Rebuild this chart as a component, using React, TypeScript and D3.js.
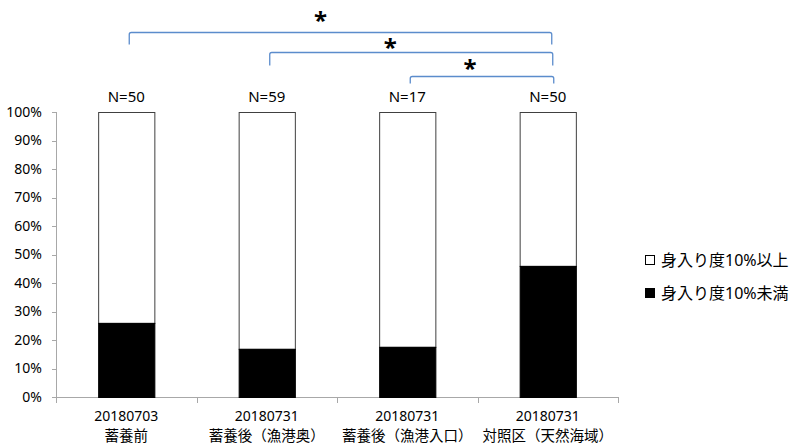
import * as d3 from "d3";

const categories = ["20180703", "20180731", "20180731", "20180731"];
const subLabels = ["蓄養前", "蓄養後（漁港奥）", "蓄養後（漁港入口）", "対照区（天然海域）"];
const sampleSizes = [50, 59, 17, 50];
const lowShare = [26, 16.9, 17.6, 46]; // 身入り度10%未満 (%)
const seriesNames = ["身入り度10%以上", "身入り度10%未満"];
const yTicks = [0, 10, 20, 30, 40, 50, 60, 70, 80, 90, 100];
// significance brackets: [from index, to index, level]
const brackets: [number, number, number][] = [
  [0, 3, 0],
  [1, 3, 1],
  [2, 3, 2],
];

const W = 798;
const H = 446;
const FONT = "'Noto Sans', 'Noto Sans CJK JP', sans-serif";
const BLUE = "#5b8ccc";

export default function App() {
  const x = d3.scaleBand<number>().domain(d3.range(categories.length)).range([56, 618]).paddingInner(0.6).paddingOuter(0.3);
  const band = d3.scaleBand<number>().domain(d3.range(categories.length)).range([56, 618]);
  const y = d3.scaleLinear().domain([0, 100]).range([397, 112]);
  const bracketY = [32, 52, 76];
  const bracketDrop = [12, 13, 7];
  const starShift = [-20, -21, -12];
  const starBase = [29, 55.5, 77];

  const cx = (i: number) => x(i)! + x.bandwidth() / 2;

  return (
    <svg width={W} height={H} style={{ position: "absolute", left: 0, top: 0, background: "#fff" }} fontFamily={FONT}>
      {/* y axis */}
      <line x1={56.5} x2={56.5} y1={y(100)} y2={y(0)} stroke="#a8a8a8" />
      {yTicks.map((t) => (
        <g key={t}>
          <line x1={52} x2={56} y1={Math.round(y(t)) + 0.5} y2={Math.round(y(t)) + 0.5} stroke="#a8a8a8" />
          <text x={42} y={y(t)} dy="0.35em" textAnchor="end" fontSize={14} fill="#000">
            {t}%
          </text>
        </g>
      ))}
      {/* x axis */}
      <line x1={56} x2={618} y1={397.5} y2={397.5} stroke="#a8a8a8" />
      {d3.range(categories.length + 1).map((i) => {
        const px = i < categories.length ? band(i)! : 618;
        return <line key={i} x1={Math.round(px) + 0.5} x2={Math.round(px) + 0.5} y1={397} y2={403} stroke="#a8a8a8" />;
      })}
      {/* bars */}
      {categories.map((c, i) => (
        <g key={i}>
          <rect x={x(i)! + 0.5} y={y(100) + 0.5} width={x.bandwidth()} height={y(lowShare[i]) - y(100)} fill="#fff" stroke="#404040" />
          <rect x={x(i)! + 0.5} y={y(lowShare[i]) + 0.5} width={x.bandwidth()} height={y(0) - y(lowShare[i])} fill="#000" stroke="#000" />
          <text x={cx(i)} y={97} dy="0.35em" textAnchor="middle" fontSize={15}>
            N={sampleSizes[i]}
          </text>
          <text x={band(i)! + band.bandwidth() / 2} y={416} dy="0.35em" textAnchor="middle" fontSize={14}>
            {c}
          </text>
          <text x={band(i)! + band.bandwidth() / 2} y={436} dy="0.35em" textAnchor="middle" fontSize={14.5}>
            {subLabels[i]}
          </text>
        </g>
      ))}
      {/* significance brackets */}
      {brackets.map(([a, b, lv]) => {
        const x1 = cx(a) + 3;
        const x2 = cx(b) + 4 + lv;
        const by = bracketY[lv] + 0.5;
        const d = `M${x1},${by + bracketDrop[lv]}V${by + 2}Q${x1},${by} ${x1 + 2},${by}H${x2 - 2}Q${x2},${by} ${x2},${by + 2}V${by + bracketDrop[lv]}`;
        return (
          <g key={lv}>
            <path d={d} fill="none" stroke={BLUE} strokeWidth={1.3} />
            <text x={(x1 + x2) / 2 + starShift[lv]} y={starBase[lv]} textAnchor="middle" fontSize={24} fontWeight="bold">
              *
            </text>
          </g>
        );
      })}
      {/* legend */}
      {seriesNames.map((s, i) => (
        <g key={s} transform={`translate(645,${260 + i * 33})`}>
          <rect x={0.5} y={-4.5} width={9} height={9} fill={i === 0 ? "#fff" : "#000"} stroke="#000" />
          <text x={16} y={0} dy="0.35em" fontSize={16}>
            {s}
          </text>
        </g>
      ))}
    </svg>
  );
}
